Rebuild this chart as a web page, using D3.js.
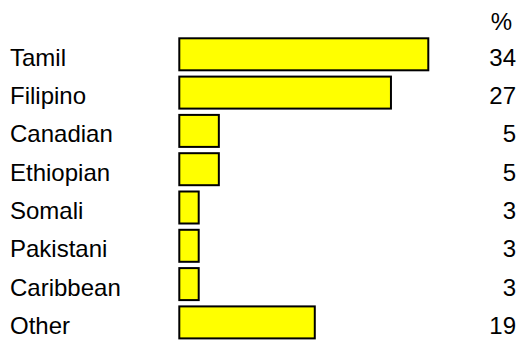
<!DOCTYPE html>
<html>
<head>
<meta charset="utf-8">
<script src="https://cdn.jsdelivr.net/npm/d3@7"></script>
<style>
  body { margin: 0; background: #fff; }
  text { font-family: Arial, "Liberation Sans", sans-serif; fill: #000; }
</style>
</head>
<body>
<script>
// categories, the printed percentages and the bar lengths
var groups = ["Tamil", "Filipino", "Canadian", "Ethiopian", "Somali", "Pakistani", "Caribbean", "Other"];
var percents = [34, 27, 5, 5, 3, 3, 3, 19];
var barLengths = [34, 28.9, 5.4, 5.4, 2.65, 2.65, 2.65, 18.5];

var width = 519, height = 341;
var fontSize = 24;

var svg = d3.select("body")
    .append("svg")
    .attr("width", width)
    .attr("height", height);

var x = d3.scaleLinear()
    .domain([0, 34])
    .range([179.3, 428.3]);

var y = d3.scaleBand()
    .domain(groups)
    .range([35.15, 341.55])
    .paddingInner(0.1645)
    .paddingOuter(0.0822);

svg.selectAll(".bar")
    .data(groups)
    .enter()
    .append("rect")
    .attr("class", "bar")
    .attr("x", x(0))
    .attr("y", function(d) { return y(d); })
    .attr("width", function(d, i) { return x(barLengths[i]) - x(0); })
    .attr("height", y.bandwidth())
    .style("fill", "#ffff00")
    .style("stroke", "#000")
    .style("stroke-width", 2);

// labels sit a little below the bar middle
function rowY(d) { return y(d) + y.bandwidth() / 2 + 3; }

svg.selectAll(".name")
    .data(groups)
    .enter()
    .append("text")
    .attr("class", "name")
    .attr("x", 10)
    .attr("y", rowY)
    .attr("dy", "0.35em")
    .attr("font-size", fontSize)
    .text(function(d) { return d; });

svg.selectAll(".pct")
    .data(groups)
    .enter()
    .append("text")
    .attr("class", "pct")
    .attr("x", 516)
    .attr("y", rowY)
    .attr("dy", "0.35em")
    .attr("font-size", fontSize)
    .style("text-anchor", "end")
    .text(function(d, i) { return percents[i]; });

svg.append("text")
    .attr("x", 512)
    .attr("y", 22)
    .attr("dy", "0.35em")
    .attr("font-size", fontSize)
    .style("text-anchor", "end")
    .text("%");
</script>
</body>
</html>
